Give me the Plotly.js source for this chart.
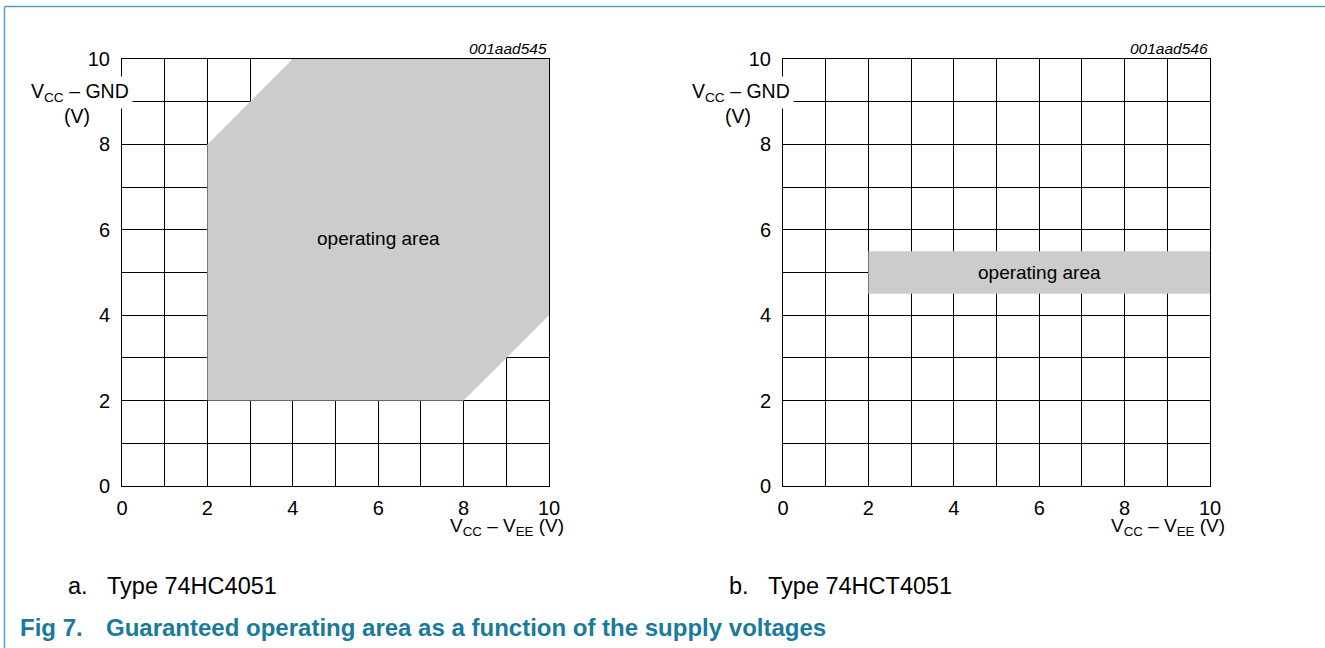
<!DOCTYPE html>
<html>
<head>
<meta charset="utf-8">
<script src="https://cdn.plot.ly/plotly-3.0.1.min.js"></script>
<style>
html,body{margin:0;padding:0;background:#fff;}
#chart{width:1325px;height:648px;}
</style>
</head>
<body>
<div id="chart"></div>
<script>
// Operating area outlines (V_CC - V_EE on x, V_CC - GND on y)
const hcX = [2, 2, 4, 10, 10, 8, 2];
const hcY = [2, 8, 10, 10, 4, 2, 2];
const hctX = [2, 2, 10, 10, 2];
const hctY = [4.5, 5.5, 5.5, 4.5, 4.5];
const tickVals = [0, 1, 2, 3, 4, 5, 6, 7, 8, 9, 10];
const tickText = ['0', '', '2', '', '4', '', '6', '', '8', '', '10'];
const areaLabel = 'operating area';
const areaLabelPosA = [6, 5.8];
const areaLabelPosB = [6, 5];
const codeA = '001aad545';
const codeB = '001aad546';
const captionLetterA = 'a.';
const captionLetterB = 'b.';
const captionA = 'Type 74HC4051';
const captionB = 'Type 74HCT4051';
const figNum = 'Fig 7.';
const figTitle = 'Guaranteed operating area as a function of the supply voltages';

const W = 1325, H = 648;
const px = v => v / W;
const py = v => 1 - v / H;

const FONT = 'Liberation Sans, Arial, sans-serif';
const tickFont = {family: FONT, size: 20, color: '#000'};

function axis(domain, anchor, isY) {
  return {
    domain: domain, anchor: anchor, range: [0, 10],
    tickmode: 'array', tickvals: tickVals, ticktext: tickText,
    showgrid: true, gridcolor: '#000', gridwidth: 1,
    showline: true, linecolor: '#000', linewidth: 1, mirror: true,
    zeroline: false, ticks: '', tickfont: tickFont,
    ticklabelstandoff: isY ? 7 : 4,
    layer: 'below traces', fixedrange: true
  };
}

const traces = [
  {x: hcX, y: hcY, xaxis: 'x', yaxis: 'y', type: 'scatter', mode: 'lines',
   fill: 'toself', fillcolor: '#cccccc', line: {width: 0, color: '#cccccc'}, hoverinfo: 'skip', showlegend: false},
  {x: hctX, y: hctY, xaxis: 'x2', yaxis: 'y2', type: 'scatter', mode: 'lines',
   fill: 'toself', fillcolor: '#cccccc', line: {width: 0, color: '#cccccc'}, hoverinfo: 'skip', showlegend: false}
];

const yDom = [py(486), py(59)];
const xDomA = [px(122), px(549)];
const xDomB = [px(783), px(1210)];

function panelAnn(off, code, letter, caption, xref, yref, pos) {
  const f = s => ({family: FONT, size: s, color: '#000'});
  return [
    {xref: 'paper', yref: 'paper', x: px(133 + off), y: py(93), xanchor: 'right', yanchor: 'middle',
     text: 'V<sub>CC</sub> \u2013 GND', showarrow: false, bgcolor: '#fff', borderpad: 3, font: f(19.5)},
    {xref: 'paper', yref: 'paper', x: px(77 + off), y: py(116), xanchor: 'center', yanchor: 'middle',
     text: '(V)', showarrow: false, font: f(19.5)},
    {xref: 'paper', yref: 'paper', x: px(566 + off), y: py(527), xanchor: 'right', yanchor: 'middle',
     text: 'V<sub>CC</sub> \u2013 V<sub>EE</sub> (V)', showarrow: false, font: f(19)},
    {xref: 'paper', yref: 'paper', x: px(549 + off), y: py(48), xanchor: 'right', yanchor: 'middle',
     text: '<i>' + code + '</i>', showarrow: false, font: f(15.5)},
    {xref: 'paper', yref: 'paper', x: px(66 + off), y: py(586), xanchor: 'left', yanchor: 'middle',
     text: letter, showarrow: false, font: f(23.5)},
    {xref: 'paper', yref: 'paper', x: px(105 + off), y: py(586), xanchor: 'left', yanchor: 'middle',
     text: caption, showarrow: false, font: f(23.5)},
    {xref: xref, yref: yref, x: pos[0], y: pos[1], xanchor: 'center', yanchor: 'middle',
     text: areaLabel, showarrow: false, font: f(19)}
  ];
}

const titleFont = {family: FONT, size: 24, color: '#1a7a9c'};
const annotations = [].concat(
  panelAnn(0, codeA, captionLetterA, captionA, 'x', 'y', areaLabelPosA),
  panelAnn(661, codeB, captionLetterB, captionB, 'x2', 'y2', areaLabelPosB),
  [{xref: 'paper', yref: 'paper', x: px(18), y: py(627), xanchor: 'left', yanchor: 'middle',
    text: '<b>' + figNum + '</b>', showarrow: false, font: titleFont},
   {xref: 'paper', yref: 'paper', x: px(104), y: py(627), xanchor: 'left', yanchor: 'middle',
    text: '<b>' + figTitle + '</b>', showarrow: false, font: titleFont}]
);

const layout = {
  width: W, height: H,
  margin: {l: 0, r: 0, t: 0, b: 0},
  paper_bgcolor: '#fff', plot_bgcolor: '#fff',
  showlegend: false,
  xaxis: axis(xDomA, 'y', false),
  yaxis: axis(yDom, 'x', true),
  xaxis2: axis(xDomB, 'y2', false),
  yaxis2: axis(yDom, 'x2', true),
  annotations: annotations,
  shapes: [
    {type: 'line', xref: 'paper', yref: 'paper', x0: px(4.5), x1: 1, y0: py(6.5), y1: py(6.5),
     line: {color: '#4fa0c2', width: 1.5}},
    {type: 'line', xref: 'paper', yref: 'paper', x0: px(4.5), x1: px(4.5), y0: py(6.5), y1: 0,
     line: {color: '#4fa0c2', width: 1.5}}
  ]
};

Plotly.newPlot('chart', traces, layout, {displayModeBar: false, staticPlot: true});
</script>
</body>
</html>
